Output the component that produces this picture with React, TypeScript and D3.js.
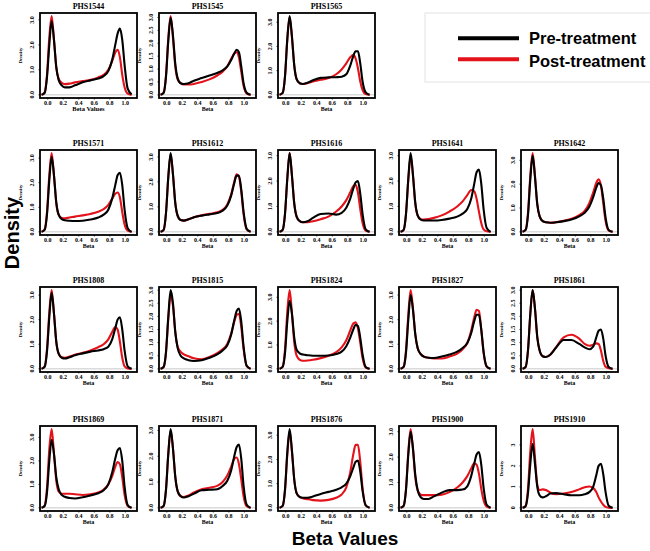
import React from "react";
import * as d3 from "d3";

const GRID = [-0.08, -0.04, -0.01, 0.02, 0.05, 0.08, 0.11, 0.14, 0.18, 0.22, 0.28, 0.35, 0.45, 0.55, 0.65, 0.72, 0.78, 0.83, 0.87, 0.9, 0.93, 0.96, 0.99, 1.03, 1.08];

const PHS1544_PRE = [0, 0.08, 0.7, 2.0, 2.95, 2.2, 1.1, 0.6, 0.38, 0.3, 0.3, 0.38, 0.5, 0.58, 0.65, 0.75, 0.95, 1.4, 2.0, 2.45, 2.65, 2.2, 1.2, 0.25, 0.02];
const PHS1544_POST = [0, 0.1, 0.8, 2.3, 3.15, 2.2, 1.1, 0.65, 0.48, 0.43, 0.45, 0.5, 0.55, 0.6, 0.7, 0.8, 1.0, 1.35, 1.7, 1.8, 1.5, 0.8, 0.3, 0.05, 0];
const PHS1545_PRE = [0, 0.08, 0.7, 2.1, 3.0, 2.3, 1.2, 0.65, 0.45, 0.42, 0.45, 0.55, 0.65, 0.75, 0.85, 0.95, 1.1, 1.35, 1.6, 1.75, 1.65, 1.1, 0.45, 0.08, 0];
const PHS1545_POST = [0, 0.09, 0.75, 2.2, 3.05, 2.2, 1.1, 0.6, 0.45, 0.4, 0.4, 0.42, 0.5, 0.6, 0.75, 0.9, 1.1, 1.4, 1.6, 1.65, 1.45, 0.9, 0.35, 0.05, 0];
const PHS1565_PRE = [0, 0.08, 0.75, 2.3, 3.25, 2.4, 1.2, 0.65, 0.48, 0.45, 0.5, 0.6, 0.7, 0.72, 0.73, 0.75, 0.85, 1.2, 1.6, 1.8, 1.8, 1.3, 0.55, 0.1, 0];
const PHS1565_POST = [0, 0.08, 0.75, 2.3, 3.2, 2.35, 1.2, 0.65, 0.48, 0.45, 0.48, 0.55, 0.62, 0.7, 0.85, 1.05, 1.3, 1.55, 1.65, 1.5, 1.1, 0.55, 0.2, 0.03, 0];
const PHS1571_PRE = [0, 0.08, 0.7, 2.1, 3.05, 2.3, 1.2, 0.7, 0.52, 0.47, 0.45, 0.44, 0.45, 0.5, 0.58, 0.7, 0.9, 1.35, 1.9, 2.3, 2.4, 1.9, 0.9, 0.15, 0];
const PHS1571_POST = [0, 0.1, 0.8, 2.3, 3.2, 2.3, 1.15, 0.7, 0.56, 0.55, 0.58, 0.62, 0.67, 0.73, 0.82, 0.92, 1.1, 1.35, 1.55, 1.6, 1.4, 0.8, 0.3, 0.05, 0];
const PHS1612_PRE = [0, 0.08, 0.75, 2.2, 3.15, 2.3, 1.15, 0.65, 0.47, 0.45, 0.5, 0.58, 0.65, 0.7, 0.75, 0.85, 1.05, 1.45, 1.95, 2.25, 2.25, 1.7, 0.8, 0.12, 0];
const PHS1612_POST = [0, 0.08, 0.75, 2.2, 3.1, 2.3, 1.15, 0.65, 0.47, 0.45, 0.5, 0.58, 0.66, 0.72, 0.78, 0.88, 1.1, 1.5, 2.0, 2.3, 2.2, 1.6, 0.7, 0.1, 0];
const PHS1616_PRE = [0, 0.08, 0.7, 2.1, 3.1, 2.2, 1.1, 0.6, 0.42, 0.38, 0.42, 0.55, 0.7, 0.72, 0.68, 0.75, 0.95, 1.3, 1.7, 1.95, 2.0, 1.5, 0.7, 0.1, 0];
const PHS1616_POST = [0, 0.08, 0.7, 2.1, 3.1, 2.2, 1.1, 0.6, 0.42, 0.38, 0.38, 0.42, 0.5, 0.6, 0.8, 1.0, 1.25, 1.55, 1.8, 1.85, 1.55, 0.9, 0.35, 0.05, 0];
const PHS1641_PRE = [0, 0.08, 0.7, 2.1, 3.1, 2.25, 1.15, 0.65, 0.48, 0.45, 0.45, 0.45, 0.47, 0.52, 0.6, 0.72, 0.9, 1.3, 1.9, 2.35, 2.45, 1.9, 0.9, 0.15, 0];
const PHS1641_POST = [0, 0.08, 0.7, 2.05, 3.0, 2.2, 1.1, 0.65, 0.5, 0.48, 0.5, 0.55, 0.65, 0.8, 1.0, 1.2, 1.45, 1.65, 1.6, 1.3, 0.8, 0.35, 0.1, 0.02, 0];
const PHS1642_PRE = [0, 0.08, 0.7, 2.2, 3.2, 2.3, 1.15, 0.65, 0.45, 0.4, 0.38, 0.4, 0.45, 0.52, 0.65, 0.8, 1.05, 1.45, 1.85, 2.05, 1.95, 1.4, 0.6, 0.08, 0];
const PHS1642_POST = [0, 0.09, 0.8, 2.35, 3.3, 2.35, 1.15, 0.65, 0.45, 0.4, 0.38, 0.4, 0.46, 0.55, 0.7, 0.88, 1.2, 1.65, 2.05, 2.2, 1.95, 1.2, 0.45, 0.05, 0];
const PHS1808_PRE = [0, 0.08, 0.7, 2.1, 3.1, 2.25, 1.1, 0.62, 0.45, 0.42, 0.47, 0.55, 0.63, 0.7, 0.75, 0.8, 0.9, 1.2, 1.65, 2.0, 2.1, 1.6, 0.75, 0.1, 0];
const PHS1808_POST = [0, 0.1, 0.8, 2.3, 3.2, 2.25, 1.1, 0.62, 0.47, 0.45, 0.5, 0.57, 0.65, 0.75, 0.88, 1.0, 1.2, 1.5, 1.7, 1.6, 1.1, 0.45, 0.1, 0.02, 0];
const PHS1815_PRE = [0, 0.08, 0.65, 2.0, 3.0, 2.5, 1.4, 0.8, 0.5, 0.4, 0.33, 0.3, 0.33, 0.42, 0.55, 0.7, 0.9, 1.3, 1.85, 2.2, 2.3, 1.8, 0.85, 0.12, 0];
const PHS1815_POST = [0, 0.07, 0.6, 1.9, 2.85, 2.4, 1.4, 0.85, 0.65, 0.55, 0.48, 0.4, 0.36, 0.45, 0.6, 0.75, 0.95, 1.35, 1.8, 2.05, 2.1, 1.6, 0.75, 0.1, 0];
const PHS1824_PRE = [0, 0.08, 0.65, 2.0, 2.85, 2.3, 1.3, 0.8, 0.65, 0.6, 0.57, 0.55, 0.55, 0.56, 0.62, 0.72, 0.95, 1.3, 1.65, 1.85, 1.8, 1.3, 0.6, 0.08, 0];
const PHS1824_POST = [0, 0.1, 0.8, 2.4, 3.3, 2.3, 1.1, 0.55, 0.38, 0.34, 0.35, 0.38, 0.45, 0.55, 0.7, 0.9, 1.2, 1.6, 1.9, 1.95, 1.7, 1.1, 0.45, 0.05, 0];
const PHS1827_PRE = [0, 0.08, 0.65, 2.0, 3.0, 2.4, 1.4, 0.85, 0.6, 0.5, 0.45, 0.44, 0.5, 0.58, 0.7, 0.85, 1.05, 1.45, 1.95, 2.2, 2.2, 1.6, 0.7, 0.1, 0];
const PHS1827_POST = [0, 0.09, 0.75, 2.2, 3.2, 2.45, 1.4, 0.85, 0.6, 0.5, 0.45, 0.42, 0.42, 0.5, 0.62, 0.8, 1.05, 1.55, 2.1, 2.4, 2.35, 1.6, 0.65, 0.08, 0];
const PHS1861_PRE = [0, 0.08, 0.7, 2.1, 3.0, 2.3, 1.2, 0.7, 0.48, 0.45, 0.55, 0.8, 1.1, 1.1, 0.95, 0.82, 0.75, 0.85, 1.2, 1.45, 1.5, 1.15, 0.5, 0.07, 0];
const PHS1861_POST = [0, 0.08, 0.7, 2.1, 3.0, 2.3, 1.2, 0.7, 0.48, 0.45, 0.55, 0.82, 1.2, 1.3, 1.15, 0.95, 0.88, 0.92, 0.97, 0.95, 0.7, 0.3, 0.08, 0.02, 0];
const PHS1869_PRE = [0, 0.08, 0.65, 2.0, 2.9, 2.3, 1.3, 0.8, 0.55, 0.47, 0.42, 0.4, 0.45, 0.53, 0.62, 0.75, 1.0, 1.5, 2.1, 2.45, 2.55, 2.0, 0.9, 0.12, 0];
const PHS1869_POST = [0, 0.1, 0.85, 2.5, 3.35, 2.3, 1.15, 0.7, 0.6, 0.6, 0.6, 0.58, 0.55, 0.58, 0.65, 0.78, 1.0, 1.35, 1.75, 1.95, 1.85, 1.3, 0.55, 0.08, 0];
const PHS1871_PRE = [0, 0.08, 0.7, 2.1, 3.05, 2.3, 1.2, 0.65, 0.45, 0.4, 0.45, 0.55, 0.68, 0.7, 0.72, 0.85, 1.05, 1.45, 2.0, 2.35, 2.45, 1.9, 0.85, 0.12, 0];
const PHS1871_POST = [0, 0.08, 0.7, 2.1, 3.0, 2.3, 1.2, 0.65, 0.45, 0.42, 0.48, 0.6, 0.72, 0.78, 0.85, 1.0, 1.25, 1.6, 1.9, 1.95, 1.7, 1.1, 0.45, 0.06, 0];
const PHS1876_PRE = [0, 0.08, 0.75, 2.3, 3.25, 2.35, 1.15, 0.6, 0.45, 0.42, 0.42, 0.47, 0.57, 0.66, 0.75, 0.85, 1.0, 1.3, 1.65, 1.9, 1.95, 1.5, 0.7, 0.1, 0];
const PHS1876_POST = [0, 0.08, 0.7, 2.2, 3.15, 2.3, 1.15, 0.62, 0.45, 0.4, 0.36, 0.32, 0.3, 0.33, 0.42, 0.55, 0.85, 1.45, 2.2, 2.6, 2.6, 1.9, 0.8, 0.1, 0];
const PHS1900_PRE = [0, 0.08, 0.7, 2.1, 3.0, 2.35, 1.3, 0.7, 0.42, 0.35, 0.35, 0.45, 0.6, 0.7, 0.7, 0.72, 0.85, 1.25, 1.75, 2.1, 2.2, 1.7, 0.8, 0.12, 0];
const PHS1900_POST = [0, 0.09, 0.75, 2.2, 3.1, 2.3, 1.2, 0.7, 0.52, 0.5, 0.5, 0.5, 0.52, 0.62, 0.8, 1.0, 1.25, 1.55, 1.75, 1.7, 1.35, 0.75, 0.3, 0.05, 0];
const PHS1910_PRE = [0, 0.08, 0.7, 2.1, 3.05, 2.1, 1.0, 0.6, 0.5, 0.55, 0.68, 0.7, 0.65, 0.6, 0.6, 0.65, 0.75, 1.0, 1.55, 2.0, 2.1, 1.6, 0.75, 0.1, 0];
const PHS1910_POST = [0, 0.1, 0.9, 2.7, 3.75, 2.4, 1.1, 0.85, 0.88, 0.85, 0.72, 0.65, 0.68, 0.75, 0.88, 0.98, 1.02, 0.95, 0.75, 0.5, 0.3, 0.15, 0.05, 0.01, 0];

const X_TICKS = [0, 0.2, 0.4, 0.6, 0.8, 1.0];
const Y_TICKS_WHOLE = [0, 1, 2, 3];
const Y_TICKS_HALF = [0, 0.5, 1, 1.5, 2, 2.5, 3];

const PANEL_IDS = [
  "PHS1544", "PHS1545", "PHS1565",
  "PHS1571", "PHS1612", "PHS1616", "PHS1641", "PHS1642",
  "PHS1808", "PHS1815", "PHS1824", "PHS1827", "PHS1861",
  "PHS1869", "PHS1871", "PHS1876", "PHS1900", "PHS1910",
];
const PRE_SERIES = [PHS1544_PRE, PHS1545_PRE, PHS1565_PRE, PHS1571_PRE, PHS1612_PRE, PHS1616_PRE, PHS1641_PRE, PHS1642_PRE, PHS1808_PRE, PHS1815_PRE, PHS1824_PRE, PHS1827_PRE, PHS1861_PRE, PHS1869_PRE, PHS1871_PRE, PHS1876_PRE, PHS1900_PRE, PHS1910_PRE];
const POST_SERIES = [PHS1544_POST, PHS1545_POST, PHS1565_POST, PHS1571_POST, PHS1612_POST, PHS1616_POST, PHS1641_POST, PHS1642_POST, PHS1808_POST, PHS1815_POST, PHS1824_POST, PHS1827_POST, PHS1861_POST, PHS1869_POST, PHS1871_POST, PHS1876_POST, PHS1900_POST, PHS1910_POST];
// tick style per panel: "d" = 0.0,1.0..., "h" = halves, "i" = integers
const TICK_STYLE = ["d", "h", "d", "d", "d", "d", "d", "d", "d", "h", "d", "d", "h", "d", "d", "d", "d", "i"];

const ROW_TOPS = [13, 150, 287, 426];
const COL_LEFTS = [40, 159, 278, 399, 521];
const PW = 97;
const PH = 85;
const RED = "#e3121b";
const SERIF = "'Liberation Serif', 'DejaVu Serif', serif";
const SANS = "'Liberation Sans', Arial, sans-serif";

function Panel({ idx, left, top }: { idx: number; left: number; top: number }) {
  const pre = PRE_SERIES[idx];
  const post = POST_SERIES[idx];
  const style = TICK_STYLE[idx];
  const m = Math.max(d3.max(pre) as number, d3.max(post) as number);
  const x = d3.scaleLinear().domain([-0.1, 1.15]).range([left, left + PW]);
  const y = d3.scaleLinear().domain([-0.04 * m, 1.04 * m]).range([top + PH, top]);
  const line = d3
    .line<number>()
    .x((_, i) => x(GRID[i]))
    .y((d) => y(d))
    .curve(d3.curveMonotoneX);
  const yt = style === "h" ? Y_TICKS_HALF : Y_TICKS_WHOLE;
  const fmt = style === "i" ? d3.format("d") : d3.format(".1f");
  const clipId = `clip-${idx}`;
  return (
    <g>
      <defs>
        <clipPath id={clipId}>
          <rect x={left} y={top} width={PW} height={PH} />
        </clipPath>
      </defs>
      <text x={left + PW / 2} y={top - 4} textAnchor="middle" fontFamily={SERIF} fontWeight="bold" fontSize={8}>
        {PANEL_IDS[idx]}
      </text>
      <line x1={left} x2={left + PW} y1={y(0)} y2={y(0)} stroke="#c8c8c8" strokeWidth={1} />
      <g clipPath={`url(#${clipId})`}>
        <path d={line(post) || ""} fill="none" stroke={RED} strokeWidth={2.1} />
        <path d={line(pre) || ""} fill="none" stroke="#000" strokeWidth={2.1} />
      </g>
      <rect x={left} y={top} width={PW} height={PH} fill="none" stroke="#000" strokeWidth={1.8} />
      {X_TICKS.map((t) => (
        <g key={`x${t}`}>
          <line x1={x(t)} x2={x(t)} y1={top + PH} y2={top + PH + 1.5} stroke="#000" strokeWidth={0.8} />
          <text x={x(t)} y={top + PH + 6.5} textAnchor="middle" fontFamily={SERIF} fontWeight="bold" fontSize={6}>
            {d3.format(".1f")(t)}
          </text>
        </g>
      ))}
      {yt.map((t) => (
        <g key={`y${t}`}>
          <line x1={left - 1.5} x2={left} y1={y(t)} y2={y(t)} stroke="#000" strokeWidth={0.8} />
          <text
            transform={`translate(${left - 6},${y(t)}) rotate(-90)`}
            textAnchor="middle"
            fontFamily={SERIF}
            fontWeight="bold"
            fontSize={6}
          >
            {fmt(t)}
          </text>
        </g>
      ))}
      <text x={left + PW / 2} y={top + PH + 13} textAnchor="middle" fontFamily={SERIF} fontWeight="bold" fontSize={idx === 0 ? 6.5 : 6}>
        {idx === 0 ? "Beta Values" : "Beta"}
      </text>
      <text
        transform={`translate(${left - 18},${top + PH / 2}) rotate(-90)`}
        textAnchor="middle"
        fontFamily={SERIF}
        fontWeight="bold"
        fontSize={5}
      >
        Density
      </text>
    </g>
  );
}

export default function App() {
  const layout: { idx: number; left: number; top: number }[] = [];
  let k = 0;
  const rowCounts = [3, 5, 5, 5];
  rowCounts.forEach((n, r) => {
    for (let c = 0; c < n; c++) {
      layout.push({ idx: k, left: COL_LEFTS[c], top: ROW_TOPS[r] });
      k++;
    }
  });
  return (
    <svg
      width={650}
      height={551}
      style={{ position: "absolute", left: 0, top: 0, background: "#fff" }}
    >
      <rect x={0} y={0} width={650} height={551} fill="#fff" />
      {layout.map((l) => (
        <Panel key={l.idx} idx={l.idx} left={l.left} top={l.top} />
      ))}
      {/* legend */}
      <rect x={425} y={13} width={240} height={69} fill="#fff" stroke="#e2e2e2" strokeWidth={1} />
      <line x1={458} x2={519} y1={38.3} y2={38.3} stroke="#000" strokeWidth={4} />
      <line x1={458} x2={519} y1={59.3} y2={59.3} stroke={RED} strokeWidth={4} />
      <text x={529} y={44.3} fontFamily={SANS} fontWeight="bold" fontSize={16.5}>Pre-treatment</text>
      <text x={529} y={66.5} fontFamily={SANS} fontWeight="bold" fontSize={16.5}>Post-treatment</text>
      {/* global axis labels */}
      <text x={345} y={545} textAnchor="middle" fontFamily={SANS} fontWeight="bold" fontSize={19}>
        Beta Values
      </text>
      <text
        transform={`translate(19,233) rotate(-90)`}
        textAnchor="middle"
        fontFamily={SANS}
        fontWeight="bold"
        fontSize={20}
      >
        Density
      </text>
    </svg>
  );
}
